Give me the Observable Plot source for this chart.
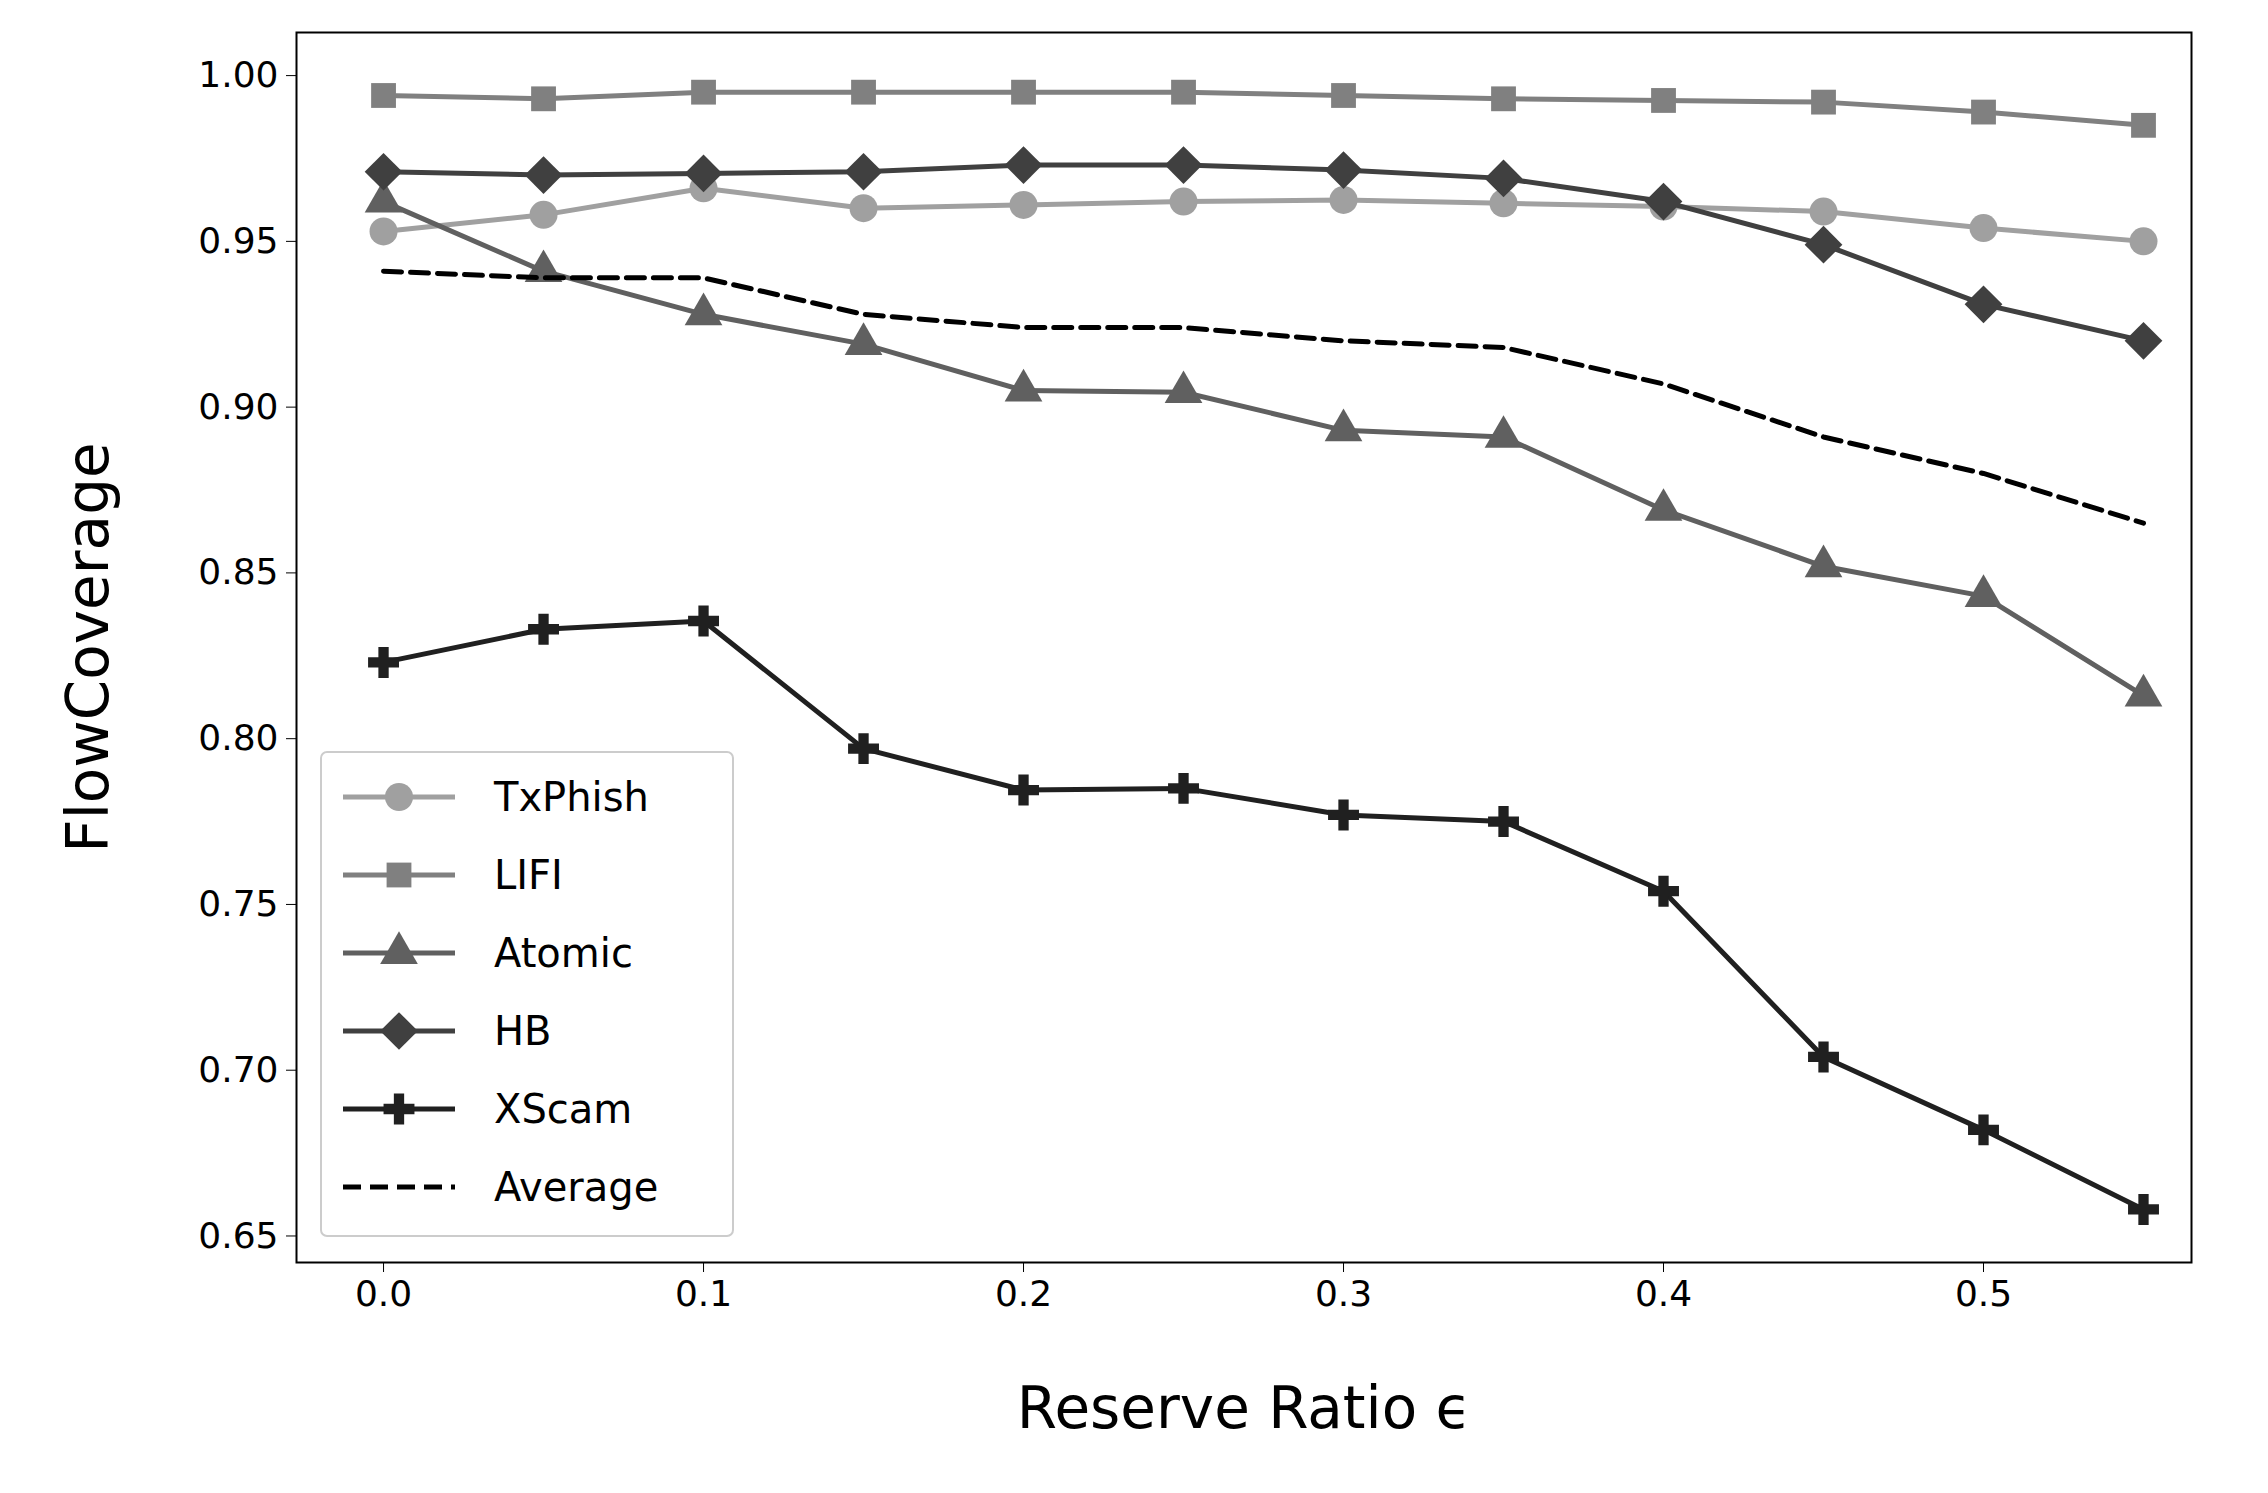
<!DOCTYPE html>
<html><head><meta charset="utf-8">
<script src="https://cdn.jsdelivr.net/npm/d3@7"></script>
<script src="https://cdn.jsdelivr.net/npm/@observablehq/plot@0.6"></script>
<style>
body{margin:0;background:#fff;font-family:"DejaVu Sans",sans-serif}
#wrap{position:relative;width:2268px;height:1493px}
#legend{position:absolute;left:0;top:0}
</style></head>
<body><div id="wrap"><div id="plot"></div><svg id="legend" width="2268" height="1493"></svg></div>
<script>
const eps = [0.0,0.05,0.1,0.15,0.2,0.25,0.3,0.35,0.4,0.45,0.5,0.55];
const txphish = [0.953,0.958,0.966,0.960,0.961,0.962,0.9625,0.9615,0.9605,0.959,0.954,0.950];
const lifi    = [0.994,0.993,0.995,0.995,0.995,0.995,0.994,0.993,0.9925,0.992,0.989,0.985];
const atomic  = [0.962,0.941,0.928,0.919,0.905,0.9045,0.893,0.891,0.869,0.852,0.843,0.813];
const hb      = [0.971,0.970,0.9705,0.971,0.973,0.973,0.9715,0.969,0.962,0.949,0.931,0.920];
const xscam   = [0.823,0.833,0.8355,0.797,0.7845,0.785,0.777,0.775,0.754,0.704,0.682,0.658];
const average = [0.941,0.939,0.939,0.928,0.924,0.924,0.920,0.918,0.907,0.891,0.880,0.865];
const yTicks = [0.65,0.70,0.75,0.80,0.85,0.90,0.95,1.00];
const xTicks = [0.0,0.1,0.2,0.3,0.4,0.5];

const symMap = {circle:d3.symbolCircle,square:d3.symbolSquare,triangle:d3.symbolTriangle,diamond2:d3.symbolDiamond2,cross:d3.symbolCross};
const series = [
  {name:"TxPhish", vals:txphish, color:"#a0a0a0", symbol:"circle", r:14},
  {name:"LIFI", vals:lifi, color:"#808080", symbol:"square", r:14},
  {name:"Atomic", vals:atomic, color:"#606060", symbol:"triangle", r:14},
  {name:"HB", vals:hb, color:"#404040", symbol:"diamond2", r:17},
  {name:"XScam", vals:xscam, color:"#202020", symbol:"cross", r:13}
];
const rows = s => eps.map((e,i)=>({x:e,y:s.vals[i]}));
const avgRows = eps.map((e,i)=>({x:e,y:average[i]}));

const marks = [Plot.frame({stroke:"#000",strokeWidth:2})];
for (const s of series) {
  marks.push(Plot.line(rows(s),{x:"x",y:"y",stroke:s.color,strokeWidth:5}));
  marks.push(Plot.dot(rows(s),{x:"x",y:"y",fill:s.color,symbol:symMap[s.symbol],r:s.r}));
}
marks.push(Plot.line(avgRows,{x:"x",y:"y",stroke:"#000",strokeWidth:5,strokeDasharray:"18,9"}));

const plot = Plot.plot({
  width:2268, height:1493,
  marginLeft:296, marginRight:77, marginTop:32, marginBottom:231,
  style:{fontFamily:"DejaVu Sans",fontSize:"36px",color:"#000",background:"#fff"},
  x:{domain:[-0.0272,0.565],ticks:xTicks,tickFormat:d3.format(".1f"),tickSize:10,tickPadding:8,
     label:"Reserve Ratio ϵ",labelArrow:"none",labelAnchor:"center",labelOffset:165},
  y:{domain:[0.642,1.013],ticks:yTicks,tickFormat:d3.format(".2f"),tickSize:10,tickPadding:8,
     label:"FlowCoverage",labelArrow:"none",labelAnchor:"center",labelOffset:230},
  marks
});
d3.select(plot).selectAll("g[aria-label='x-axis label'] text, g[aria-label='y-axis label'] text")
  .style("font-size","58px").text(function(){return this.textContent.replace(/\s*[→↑]\s*/g,"");});
document.getElementById("plot").appendChild(plot);

// legend
const lg = d3.select("#legend");
lg.append("rect").attr("x",321).attr("y",752).attr("width",412).attr("height",484).attr("rx",6)
  .attr("fill","#fff").attr("fill-opacity",0.8).attr("stroke","#ccc").attr("stroke-width",2);
const items = [...series, {name:"Average", color:"#000", dash:true}];
items.forEach((s,i)=>{
  const y = 797 + i*78;
  lg.append("line").attr("x1",343).attr("x2",455).attr("y1",y).attr("y2",y)
    .attr("stroke",s.color).attr("stroke-width",5).attr("stroke-dasharray",s.dash?"18,9":null);
  if (s.symbol) {
    lg.append("path").attr("d",d3.symbol(symMap[s.symbol],Math.PI*s.r*s.r)()).attr("transform",`translate(399,${y})`).attr("fill",s.color);
  }
  lg.append("text").attr("x",494).attr("y",y).attr("dy","0.35em").attr("font-size",40)
    .attr("font-family","DejaVu Sans").text(s.name);
});
</script></body></html>
